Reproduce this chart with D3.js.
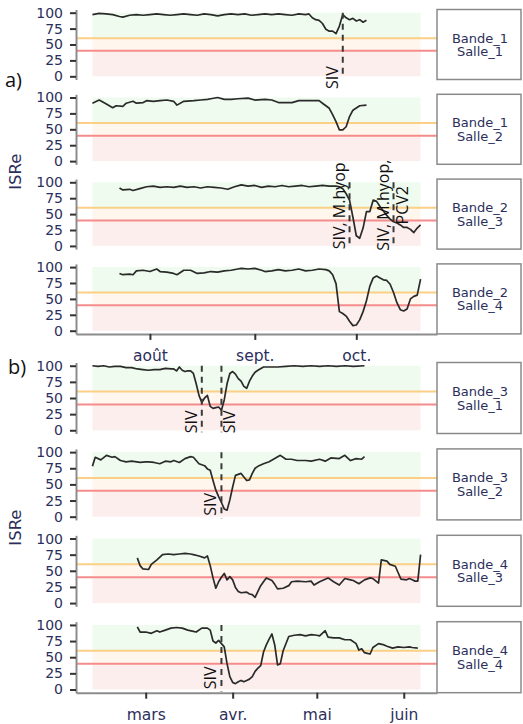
<!DOCTYPE html>
<html>
<head>
<meta charset="utf-8">
<script src="https://cdn.jsdelivr.net/npm/d3@7"></script>
<style>
  body { margin: 0; background: #fff; }
  .tick text { font-family: "DejaVu Sans", sans-serif; fill: #2c2f5b; }
</style>
</head>
<body>
<div id="chart"></div>
<script>
var svgWidth = 523;
var svgHeight = 724;

// ===== data =====
var yTicks = [0, 25, 50, 75, 100];
var limitOrange = 60;
var limitRed = 40;

var stripA = [["Bande_1", "Salle_1"], ["Bande_1", "Salle_2"], ["Bande_2", "Salle_3"], ["Bande_2", "Salle_4"]];
var stripB = [["Bande_3", "Salle_1"], ["Bande_3", "Salle_2"], ["Bande_4", "Salle_3"], ["Bande_4", "Salle_4"]];

var monthsA = ["2018-08-01", "2018-09-01", "2018-10-01"];
var monthNamesA = ["août", "sept.", "oct."];
var monthsB = ["2019-03-01", "2019-04-01", "2019-05-01", "2019-06-01"];
var monthNamesB = ["mars", "avr.", "mai", "juin"];

// a) 2018
var a1 = [["07-15",97],["07-17",99],["07-19",98],["07-21",97],["07-23",94],["07-24",93],["07-26",96],["07-28",97],["07-30",96],
  ["08-01",97],["08-03",98],["08-05",97],["08-07",96],["08-09",97],["08-11",98],["08-13",97],["08-15",96],["08-17",98],["08-19",97],
  ["08-21",95],["08-23",97],["08-25",98],["08-27",97],["08-29",98],["08-31",96],["09-02",97],["09-04",98],["09-06",97],["09-08",98],
  ["09-10",97],["09-12",96],["09-14",98],["09-16",97],["09-17",98],["09-18",92],["09-19",89],["09-20",88],["09-21",83],["09-22",74],
  ["09-23",71],["09-24",71],["09-25",67],["09-26",79],["09-27",97],["09-28",92],["09-29",89],["09-30",91],["10-01",87],["10-02",89],
  ["10-03",85],["10-04",88]];
var a2 = [["07-15",91],["07-17",96],["07-19",90],["07-21",84],["07-22",87],["07-24",86],["07-25",91],["07-27",94],["07-28",91],
  ["07-30",92],["07-31",95],["08-02",94],["08-04",95],["08-06",96],["08-08",94],["08-09",88],["08-11",94],["08-14",95],["08-16",96],
  ["08-18",97],["08-19",98],["08-21",100],["08-23",97],["08-25",97],["08-27",98],["08-30",99],["09-01",96],["09-04",97],["09-06",96],
  ["09-08",92],["09-10",92],["09-12",92],["09-14",95],["09-17",95],["09-20",95],["09-21",91],["09-23",83],["09-24",73],["09-25",62],
  ["09-26",49],["09-27",49],["09-28",54],["09-29",70],["09-30",80],["10-02",87],["10-04",88]];
var a3 = [["07-23",91],["07-24",88],["07-26",89],["07-27",87],["07-29",90],["07-31",93],["08-02",94],["08-04",92],["08-06",93],
  ["08-08",92],["08-10",94],["08-12",92],["08-14",93],["08-16",91],["08-18",93],["08-20",92],["08-22",91],["08-24",89],["08-26",93],
  ["08-28",96],["08-30",94],["09-01",95],["09-03",92],["09-05",94],["09-07",93],["09-09",95],["09-11",93],["09-13",94],["09-15",95],
  ["09-17",93],["09-19",94],["09-21",95],["09-23",94],["09-25",94],["09-26",93],["09-27",90],["09-28",82],["09-29",72],["09-30",45],
  ["10-01",16],["10-02",12],["10-03",28],["10-04",54],["10-05",54],["10-06",72],["10-07",70],["10-08",62],["10-09",55],["10-10",48],
  ["10-11",42],["10-12",38],["10-13",36],["10-14",33],["10-15",29],["10-16",29],["10-17",26],["10-18",21],["10-19",28],["10-20",33]];
var a4 = [["07-23",90],["07-24",88],["07-26",89],["07-27",88],["07-28",94],["07-30",95],["08-01",93],["08-03",97],["08-04",93],
  ["08-06",92],["08-08",90],["08-09",88],["08-11",95],["08-13",95],["08-15",90],["08-17",91],["08-19",93],["08-21",92],["08-23",94],
  ["08-25",95],["08-27",97],["08-28",98],["08-30",97],["09-01",98],["09-03",95],["09-04",93],["09-06",94],["09-08",96],["09-10",94],
  ["09-12",95],["09-14",97],["09-16",94],["09-18",95],["09-20",97],["09-22",96],["09-23",94],["09-24",88],["09-25",74],["09-26",30],
  ["09-27",27],["09-28",23],["09-29",15],["09-30",8],["10-01",9],["10-02",17],["10-03",30],["10-04",47],["10-05",70],["10-06",83],
  ["10-07",86],["10-08",83],["10-09",80],["10-10",79],["10-11",73],["10-12",60],["10-13",44],["10-14",33],["10-15",31],["10-16",34],
  ["10-17",50],["10-18",54],["10-19",56],["10-20",81]];

// b) 2019
var b1 = [["02-10",100],["02-12",99],["02-14",100],["02-16",98],["02-18",99],["02-20",99],["02-22",97],["02-24",97],["02-26",95],
  ["02-28",94],["03-02",93],["03-04",94],["03-06",94],["03-08",96],["03-10",95],["03-11",95],["03-12",92],["03-13",98],["03-14",93],
  ["03-15",91],["03-16",92],["03-17",92],["03-18",88],["03-19",72],["03-20",54],["03-21",43],["03-22",50],["03-23",54],["03-24",37],
  ["03-25",34],["03-26",35],["03-27",36],["03-28",31],["03-29",47],["03-30",72],["03-31",88],["04-01",91],["04-02",87],["04-03",80],
  ["04-04",76],["04-05",68],["04-06",65],["04-07",76],["04-08",84],["04-09",90],["04-10",93],["04-12",98],["04-15",98],["04-17",98],
  ["04-20",99],["04-23",100],["04-26",99],["04-29",100],["05-02",99],["05-05",100],["05-08",99],["05-11",100],["05-14",99],["05-18",100]];
var b2 = [["02-10",78],["02-11",92],["02-13",88],["02-15",95],["02-17",92],["02-18",93],["02-20",87],["02-22",85],["02-24",86],
  ["02-27",84],["03-01",85],["03-02",85],["03-04",84],["03-06",82],["03-08",86],["03-10",85],["03-11",87],["03-13",84],["03-15",90],
  ["03-17",93],["03-18",92],["03-19",87],["03-20",82],["03-22",79],["03-23",74],["03-24",72],["03-25",56],["03-26",41],["03-27",31],
  ["03-28",22],["03-29",12],["03-30",10],["03-31",26],["04-01",46],["04-02",64],["04-04",67],["04-06",56],["04-07",57],["04-08",67],
  ["04-09",75],["04-10",78],["04-12",82],["04-14",85],["04-16",90],["04-18",95],["04-20",89],["04-22",89],["04-24",87],["04-27",87],
  ["04-29",86],["05-02",89],["05-04",86],["05-06",91],["05-09",90],["05-11",95],["05-13",87],["05-15",90],["05-17",89],["05-18",93]];
var b3 = [["02-26",70],["02-27",58],["02-28",53],["03-02",52],["03-03",60],["03-05",67],["03-07",75],["03-09",76],["03-11",75],
  ["03-13",76],["03-15",77],["03-17",76],["03-18",75],["03-20",73],["03-22",70],["03-23",73],["03-24",58],["03-25",39],["03-26",23],
  ["03-27",33],["03-28",40],["03-29",46],["03-30",36],["03-31",41],["04-01",36],["04-02",24],["04-03",18],["04-04",16],["04-06",17],
  ["04-07",14],["04-08",13],["04-09",9],["04-10",18],["04-11",27],["04-12",33],["04-13",39],["04-15",35],["04-16",29],["04-17",22],
  ["04-19",23],["04-21",27],["04-22",33],["04-24",34],["04-27",33],["04-29",34],["04-30",28],["05-02",33],["05-05",39],["05-07",33],
  ["05-09",28],["05-11",38],["05-13",36],["05-14",35],["05-16",30],["05-18",36],["05-20",39],["05-21",38],["05-23",31],["05-24",67],
  ["05-26",65],["05-27",60],["05-29",57],["05-30",47],["05-31",37],["06-02",36],["06-03",38],["06-04",36],["06-05",34],["06-06",34],
  ["06-07",75]];
var b4 = [["02-26",97],["02-27",89],["03-01",89],["03-03",87],["03-05",91],["03-06",89],["03-08",92],["03-10",95],["03-12",96],
  ["03-14",95],["03-16",92],["03-18",90],["03-19",89],["03-21",95],["03-23",95],["03-24",92],["03-25",75],["03-26",72],["03-27",76],
  ["03-28",71],["03-29",66],["03-30",40],["03-31",20],["04-01",11],["04-02",9],["04-03",12],["04-04",14],["04-05",12],["04-06",14],
  ["04-07",16],["04-08",20],["04-09",28],["04-10",33],["04-11",37],["04-12",58],["04-13",69],["04-14",78],["04-15",86],["04-16",69],
  ["04-17",38],["04-18",40],["04-19",60],["04-21",82],["04-23",84],["04-25",85],["04-27",83],["04-29",85],["05-01",84],["05-02",83],
  ["05-04",91],["05-05",81],["05-07",80],["05-09",80],["05-11",77],["05-13",77],["05-15",71],["05-16",61],["05-17",63],["05-18",57],
  ["05-19",56],["05-20",55],["05-21",65],["05-23",71],["05-25",69],["05-26",67],["05-28",64],["05-30",66],["06-01",65],["06-03",66],
  ["06-04",65],["06-06",64]];

// vertical dashed events (panel index, date, text lines, label centre in ISRe units)
var eventsA = [
  { panel: 0, date: "09-27", text: ["SIV"], at: -2 },
  { panel: 2, date: "09-29", text: ["SIV, M.hyop"], at: 63 },
  { panel: 2, date: "10-12", text: ["SIV, M.hyop,", "PCV2"], at: 64 }
];
var eventsB = [
  { panel: 0, date: "03-21", text: ["SIV"], at: 13 },
  { panel: 0, date: "03-28", text: ["", "SIV"], at: 13 },
  { panel: 1, date: "03-28", text: ["SIV"], at: 19 },
  { panel: 3, date: "03-28", text: ["SIV"], at: 18 }
];

// ===== layout =====
var plotLeft = 76;
var plotRight = 437;
var stripRight = 521;
var navy = "#2c2f5b";

var svg = d3.select("#chart")
  .append("svg")
  .attr("width", svgWidth)
  .attr("height", svgHeight);

var parseDate = d3.timeParse("%Y-%m-%d");

function drawGroup(opt) {
  var series = opt.series.map(function(s) {
    return s.map(function(d) { return { date: parseDate(opt.year + "-" + d[0]), value: d[1] }; });
  });

  // band spans the full data range, axis expands 5% like ggplot
  var ext = d3.extent([].concat.apply([], series), d => d.date);
  var pad = (ext[1] - ext[0]) * 0.05;
  var x = d3.scaleTime()
    .domain([new Date(+ext[0] - pad), new Date(+ext[1] + pad)])
    .range([plotLeft, plotRight]);

  series.forEach(function(data, i) {
    var top = opt.top + i * opt.step;
    var y = d3.scaleLinear().domain([-5, 105]).range([top + opt.height, top]);
    var g = svg.append("g");

    // coloured zones
    var zones = [[limitOrange, 100, "#eefbee"], [limitRed, limitOrange, "#fff7ee"], [0, limitRed, "#fdeeee"]];
    g.selectAll(".zone")
      .data(zones)
      .enter()
      .append("rect")
      .attr("x", x(ext[0]))
      .attr("width", x(ext[1]) - x(ext[0]))
      .attr("y", d => y(d[1]))
      .attr("height", d => y(d[0]) - y(d[1]))
      .attr("fill", d => d[2]);

    // thresholds
    g.selectAll(".limit")
      .data([[limitOrange, "#fbcf86"], [limitRed, "#f48c8c"]])
      .enter()
      .append("line")
      .attr("x1", plotLeft)
      .attr("x2", plotRight)
      .attr("y1", d => y(d[0]))
      .attr("y2", d => y(d[0]))
      .attr("stroke", d => d[1])
      .attr("stroke-width", 2);

    // data line
    g.append("path")
      .datum(data)
      .attr("d", d3.line().x(d => x(d.date)).y(d => y(d.value)))
      .attr("fill", "none")
      .attr("stroke", "#2a2a2a")
      .attr("stroke-width", 1.7)
      .attr("stroke-linejoin", "round");

    // events
    opt.events.filter(e => e.panel === i).forEach(function(e) {
      var ex = x(parseDate(opt.year + "-" + e.date));
      g.append("line")
        .attr("x1", ex).attr("x2", ex)
        .attr("y1", y(100)).attr("y2", y(-3))
        .attr("stroke", "#3a3a3a")
        .attr("stroke-width", 2)
        .attr("stroke-dasharray", "6,5");
      e.text.forEach(function(t, k) {
        g.append("text")
          .attr("transform", `translate(${ex - 5 + k * 19}, ${y(e.at)}) rotate(-90)`)
          .attr("text-anchor", "middle")
          .style("font-family", "'Open Sans', sans-serif")
          .style("font-size", "16px")
          .attr("fill", "#111")
          .text(t);
      });
    });

    // y axis
    var yAxis = g.append("g")
      .attr("transform", `translate(${plotLeft}, 0)`)
      .call(d3.axisLeft(y).tickValues(yTicks).tickSize(6).tickSizeOuter(0).tickPadding(7));
    yAxis.select(".domain").attr("stroke", "#8c8c8c").attr("stroke-width", 2);
    yAxis.selectAll(".tick line").attr("stroke", "#333").attr("stroke-width", 2);
    yAxis.selectAll(".tick text").style("font-size", "14px");

    // strip on the right
    g.append("rect")
      .attr("x", plotRight)
      .attr("y", top)
      .attr("width", stripRight - plotRight)
      .attr("height", opt.height)
      .attr("fill", "#fff")
      .attr("stroke", "#8a8a8a")
      .attr("stroke-width", 1.5);
    g.selectAll(".strip")
      .data(opt.strips[i])
      .enter()
      .append("text")
      .attr("x", (plotRight + stripRight) / 2 + 1)
      .attr("y", (d, k) => top + opt.height / 2 - 2 + k * 13.5)
      .attr("text-anchor", "middle")
      .style("font-family", "'DejaVu Sans', sans-serif")
      .style("font-size", "13px")
      .attr("fill", navy)
      .text(d => d);

    // month axis under the last panel
    if (i === series.length - 1) {
      var xAxis = g.append("g")
        .attr("transform", `translate(0, ${top + opt.height})`)
        .call(d3.axisBottom(x)
          .tickValues(opt.months.map(parseDate))
          .tickFormat((d, k) => opt.monthNames[k])
          .tickSize(6).tickSizeOuter(0).tickPadding(10));
      xAxis.select(".domain").attr("stroke", "#8c8c8c").attr("stroke-width", 2);
      xAxis.selectAll(".tick line").attr("stroke", "#333").attr("stroke-width", 2);
      xAxis.selectAll(".tick text").style("font-size", "15.5px");
    }
  });

  // y title and panel tag
  var mid = opt.top + ((series.length - 1) * opt.step + opt.height) / 2;
  svg.append("text")
    .attr("transform", `translate(21, ${mid}) rotate(-90)`)
    .attr("text-anchor", "middle")
    .style("font-family", "'DejaVu Sans', sans-serif")
    .style("font-size", "16.5px")
    .attr("fill", navy)
    .text("ISRe");

  svg.append("text")
    .attr("x", opt.tagX)
    .attr("y", opt.tagY)
    .style("font-family", "'Open Sans', sans-serif")
    .style("font-size", "20px")
    .attr("fill", "#111")
    .text(opt.tag);
}

drawGroup({ year: 2018, series: [a1, a2, a3, a4], strips: stripA, months: monthsA, monthNames: monthNamesA,
  events: eventsA, top: 9.5, step: 84.8, height: 70, tag: "a)", tagX: 5, tagY: 87 });
drawGroup({ year: 2019, series: [b1, b2, b3, b4], strips: stripB, months: monthsB, monthNames: monthNamesB,
  events: eventsB, top: 362.5, step: 86.4, height: 71, tag: "b)", tagX: 8, tagY: 374 });
</script>
</body>
</html>
